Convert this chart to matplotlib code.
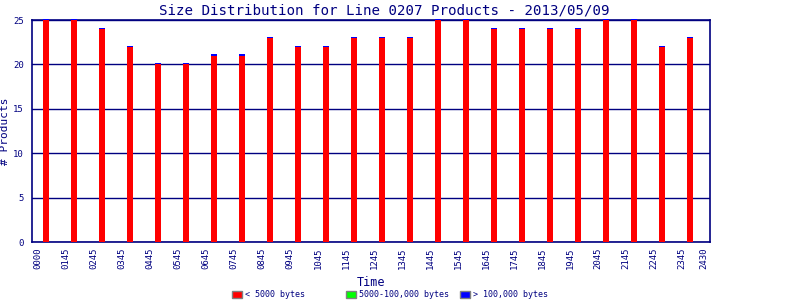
import matplotlib
matplotlib.use('Agg')
import matplotlib.pyplot as plt
from matplotlib.patches import Patch
import numpy as np

# chart data
hours = list(range(24))
small_counts = [25, 25, 24, 22, 20, 20, 21, 21, 23, 22, 22, 23,
                23, 23, 25, 25, 24, 24, 24, 24, 25, 25, 22, 23]
medium_counts = [0] * 24
# the large series only shows as a thin cap on top of each bar
large_counts = [0.12] * 24
tick_labels = ['0000', '0145', '0245', '0345', '0445', '0545', '0645', '0745',
               '0845', '0945', '1045', '1145', '1245', '1345', '1445', '1545',
               '1645', '1745', '1845', '1945', '2045', '2145', '2245', '2345', '2430']
legend_labels = ['< 5000 bytes', '5000-100,000 bytes', '> 100,000 bytes']

navy = '#000080'
colors = ['#ff0000', '#00ff00', '#0000ff']
plt.rcParams['font.family'] = ['DejaVu Sans Mono']

fig = plt.figure(figsize=(8, 3), dpi=100)
ax = fig.add_axes([0.04, 0.1933, 0.8475, 0.74])

x = np.array(hours)
small = np.array(small_counts)
medium = np.array(medium_counts)
large = np.array(large_counts)
w = 0.22
ax.bar(x, small, w, color=colors[0], zorder=3, clip_on=False)
ax.bar(x, medium, w, bottom=small, color=colors[1], zorder=3, clip_on=False)
ax.bar(x, large, w, bottom=small + medium, color=colors[2], zorder=3, clip_on=False)

ax.set_xlim(-0.5, 23.71)
ax.set_ylim(0, 25)
ax.set_yticks([0, 5, 10, 15, 20, 25])
ax.yaxis.grid(True, color=navy, linewidth=1, zorder=1)
tick_pos = list(np.arange(24) - 0.29) + [23.5]
ax.set_xticks(tick_pos)
ax.set_xticklabels(tick_labels, rotation=90)
ax.tick_params(length=0, labelsize=6.5, colors=navy, pad=4)
ax.tick_params(axis='y', pad=6)
for s in ax.spines.values():
    s.set_color(navy)
    s.set_linewidth(1.2)

ax.set_xlabel('Time', color=navy, fontsize=8.5, labelpad=5)
ax.set_ylabel('# Products', color=navy, fontsize=8)
ax.yaxis.set_label_coords(-0.033, 0.5)
fig.text(0.48, 0.965, 'Size Distribution for Line 0207 Products - 2013/05/09',
         ha='center', va='center', color=navy, fontsize=10.2)

# legend entries placed one by one, like the original
leg_x = [0.29, 0.4325, 0.575]
for c, lab, lx in zip(colors, legend_labels, leg_x):
    h = Patch(facecolor=c, edgecolor='#808080', linewidth=1)
    leg = fig.legend([h], [lab], loc='center left', bbox_to_anchor=(lx, 0.017),
                     frameon=False, fontsize=6, handlelength=1.2,
                     handleheight=0.9, handletextpad=0.4, borderpad=0,
                     borderaxespad=0)
    for t in leg.get_texts():
        t.set_color(navy)

fig.savefig('out.png', dpi=100)
